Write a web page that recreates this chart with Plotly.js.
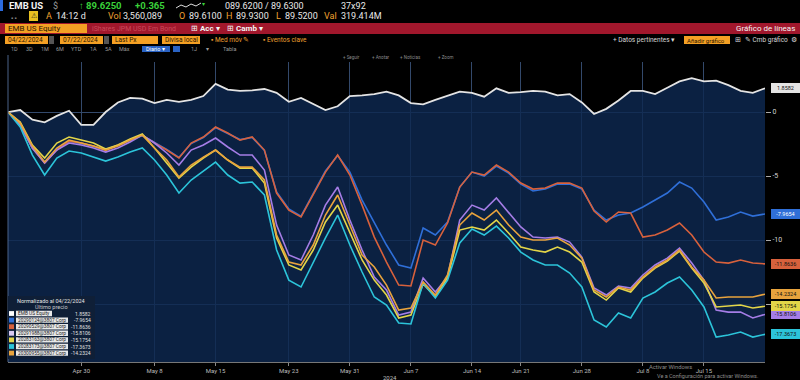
<!DOCTYPE html>
<html><head><meta charset="utf-8">
<script src="https://cdn.plot.ly/plotly-3.0.1.min.js"></script>
<style>html,body{margin:0;padding:0;background:#000;}#chart{width:800px;height:380px;}</style>
</head><body><div id="chart"></div>
<script>
// ---------- DATA ----------
const dates = [
 "2024-04-22","2024-04-23","2024-04-24","2024-04-25","2024-04-26","2024-04-29","2024-04-30",
 "2024-05-01","2024-05-02","2024-05-03","2024-05-06","2024-05-07","2024-05-08","2024-05-09","2024-05-10",
 "2024-05-13","2024-05-14","2024-05-15","2024-05-16","2024-05-17","2024-05-20","2024-05-21","2024-05-22",
 "2024-05-23","2024-05-24","2024-05-28","2024-05-29","2024-05-30","2024-05-31",
 "2024-06-03","2024-06-04","2024-06-05","2024-06-06","2024-06-07","2024-06-10","2024-06-11","2024-06-12",
 "2024-06-13","2024-06-14","2024-06-17","2024-06-18","2024-06-20","2024-06-21","2024-06-24","2024-06-25",
 "2024-06-26","2024-06-27","2024-06-28",
 "2024-07-01","2024-07-02","2024-07-03","2024-07-05","2024-07-08","2024-07-09","2024-07-10","2024-07-11",
 "2024-07-12","2024-07-15","2024-07-16","2024-07-17","2024-07-18","2024-07-19","2024-07-22"];
const tickDates = ["2024-04-30","2024-05-08","2024-05-15","2024-05-23","2024-05-31","2024-06-07","2024-06-14","2024-06-21","2024-06-28","2024-07-08","2024-07-15"];
const tickLabels = ["Apr 30","May 8","May 15","May 23","May 31","Jun 7","Jun 14","Jun 21","Jun 28","Jul 8","Jul 15"];
const yTickVals = [0,-5,-10,-15];
const yTickText = ["0","-5","-10",""];

const emb = [0,0.16,-0.6,-0.8,-0.3,0.1,-1.0,-1.0,0.0,0.75,
 1.1,1.05,0.7,0.95,0.8,0.95,1.25,2.2,1.75,1.65,
 1.7,1.8,1.5,0.8,1.1,0.6,0.15,0.45,1.25,1.3,
 1.4,1.6,1.3,0.7,0.6,0.95,1.3,1.6,1.5,1.2,
 1.85,1.5,1.55,1.65,1.6,1.3,1.4,0.75,-0.15,0.25,
 0.9,1.65,1.65,1.4,1.9,2.4,2.65,2.4,2.45,2.1,
 1.65,1.5,1.8582];
const bondBlue = [0,-0.98,-2.85,-3.91,-2.93,-2.30,-2.45,-2.70,-2.93,-2.62,
 -2.23,-1.84,-2.38,-2.93,-3.55,-2.46,-1.99,-1.21,-1.68,-2.15,
 -1.99,-3.01,-6.25,-7.58,-8.13,-6.41,-4.61,-3.40,-4.69,-6.88,
 -8.67,-10.39,-11.95,-12.19,-9.06,-9.61,-8.59,-5.86,-4.69,-5.0,
 -4.22,-4.77,-5.63,-6.17,-6.02,-5.63,-5.63,-6.02,-7.66,-8.44,
 -8.05,-7.89,-7.42,-6.88,-6.33,-5.47,-5.94,-7.03,-8.44,-8.20,
 -7.81,-8.13,-7.9654];
const bondRed = [0,-0.94,-2.81,-3.98,-2.97,-2.27,-2.42,-2.66,-2.97,-2.58,
 -2.19,-1.80,-2.42,-2.97,-3.59,-2.42,-1.95,-1.17,-1.64,-2.19,
 -1.95,-2.97,-6.33,-7.66,-8.20,-6.48,-4.69,-3.36,-4.92,-7.27,
 -9.77,-11.72,-13.52,-13.59,-10.0,-10.39,-8.67,-5.86,-4.69,-4.92,
 -4.14,-4.69,-5.55,-6.02,-5.94,-5.55,-5.55,-5.94,-7.73,-8.59,
 -7.81,-7.89,-9.77,-9.61,-9.22,-8.67,-9.61,-10.94,-11.72,-11.80,
 -11.56,-11.80,-11.8636];
const bondPurple = [0,-1.02,-2.81,-3.98,-2.97,-2.42,-2.58,-2.81,-3.13,-2.81,
 -2.34,-1.80,-2.42,-3.20,-4.14,-2.97,-2.58,-2.03,-2.73,-3.36,
 -3.36,-4.53,-8.83,-11.17,-11.56,-9.61,-7.27,-5.86,-8.44,-10.78,
 -12.89,-13.91,-15.86,-15.63,-12.97,-14.06,-12.89,-8.44,-7.27,-7.66,
 -6.72,-7.89,-8.98,-9.77,-9.84,-9.77,-10.16,-11.33,-13.75,-14.30,
 -13.59,-13.75,-12.73,-11.95,-11.41,-10.63,-11.80,-13.13,-15.47,-15.63,
 -15.63,-16.09,-15.8106];
const bondYellow = [0,-0.78,-2.58,-3.59,-2.42,-1.95,-2.19,-2.42,-2.89,-2.58,
 -2.11,-1.72,-2.81,-3.98,-5.16,-4.30,-3.59,-2.97,-3.75,-4.38,
 -4.38,-5.55,-9.84,-11.95,-12.34,-10.78,-8.59,-7.27,-9.38,-11.56,
 -13.13,-14.30,-16.09,-15.86,-13.44,-14.45,-12.97,-9.22,-8.98,-9.22,
 -8.44,-9.45,-10.55,-10.78,-10.94,-10.55,-10.94,-11.72,-14.06,-14.69,
 -13.75,-14.06,-12.97,-12.19,-11.64,-10.86,-12.19,-13.36,-15.23,-15.16,
 -15.08,-15.31,-15.1754];
const bondCyan = [0,-1.17,-3.36,-4.92,-3.59,-3.05,-3.20,-3.52,-3.83,-3.52,
 -3.13,-2.81,-3.75,-4.92,-6.33,-5.31,-4.61,-3.91,-4.92,-5.55,
 -5.47,-6.48,-10.78,-13.13,-13.67,-11.72,-9.84,-8.05,-10.39,-12.50,
 -14.45,-15.08,-16.48,-16.56,-13.36,-14.53,-13.13,-10.23,-9.14,-9.61,
 -8.91,-9.84,-10.94,-11.56,-11.95,-11.95,-12.58,-13.67,-16.25,-16.80,
 -15.70,-16.09,-14.53,-14.06,-13.36,-12.89,-13.91,-15.23,-17.58,-17.42,
 -17.19,-17.58,-17.3673];
const bondGold = [0,-0.86,-2.66,-3.91,-2.81,-2.19,-2.42,-2.66,-2.97,-2.66,
 -2.19,-1.80,-2.81,-3.75,-5.08,-4.14,-3.52,-2.97,-3.75,-4.30,
 -4.30,-5.31,-9.61,-11.72,-11.95,-10.39,-8.05,-6.48,-8.83,-11.17,
 -12.11,-13.52,-15.47,-15.31,-13.28,-14.30,-12.73,-8.83,-7.89,-8.44,
 -7.66,-8.83,-9.77,-10.0,-10.0,-9.84,-10.39,-11.41,-13.91,-14.45,
 -13.67,-13.91,-12.89,-12.11,-11.56,-10.78,-12.11,-13.13,-14.53,-14.45,
 -14.45,-14.45,-14.2324];

const seriesNames = ["EMB US Equity","20290124@3807 Corp","20290529@3807 Corp","20291988@3807 Corp","20283163@3807 Corp","20283173@3807 Corp","20300955@3807 Corp"];
const lastLabels = ["1.8582","-7.9654","-11.8636","-15.8106","-15.1754","-17.3673","-14.2324"];

// ---------- STYLE / GEOMETRY ----------
const seriesData = [emb,bondBlue,bondRed,bondPurple,bondYellow,bondCyan,bondGold];
const colors = ['#e4e4e4','#2f6fd8','#d8613c','#a57de6','#e3d548','#2cc4d9','#e8a33d'];
const legendSwatch = ['#ffffff','#2f6fd8','#d8613c','#d9c9f2','#e3d548','#2cc4d9','#e8a33d'];
const pillText = ['#111','#fff','#111','#111','#111','#111','#111'];
const W=800,H=380,L=8,R=35,T=62,B=18,PW=W-L-R,PH=H-T-B;
const yRange=[-19.53,3.91];
const FONT='Roboto, "Liberation Sans", Arial, sans-serif';
const fx=p=>(p-L)/PW, fy=p=>1-(p-T)/PH;
function txt(s,x,y,size,color,opt){return Object.assign({text:s,xref:'paper',yref:'paper',x:fx(x),y:fy(y),xanchor:'left',yanchor:'middle',showarrow:false,borderpad:0,font:{family:FONT,size:size,color:color}},opt||{});}
function rect(x0,y0,x1,y1,fill,opt){return Object.assign({type:'rect',xref:'paper',yref:'paper',x0:fx(x0),x1:fx(x1),y0:fy(y1),y1:fy(y0),fillcolor:fill,line:{width:0},layer:'above'},opt||{});}

const traces=[];
traces.push({x:dates,y:dates.map(()=>yRange[0]),type:'scatter',mode:'lines',line:{width:0},hoverinfo:'skip'});
seriesData.forEach((d,k)=>{
  const t={x:dates,y:d,type:'scatter',mode:'lines',line:{color:colors[k],width:1.6},name:seriesNames[k]};
  if(k===0){t.fill='tonexty';t.fillcolor='rgba(13,40,80,0.82)';t.line.width=1.8;}
  traces.push(t);
});

const shapes=[], ann=[];
// header rows
shapes.push(rect(0,0,3,11,'#2b6be0'));
ann.push(txt('<b>EMB US</b>',8,6,9.5,'#f2f2f2'));
ann.push(txt('$',52,6,9,'#9a9a9a'));
ann.push(txt('<b>↑ 89.6250</b>',78,6,9.5,'#3ad13a'));
ann.push(txt('<b>+0.365</b>',134,6,9.5,'#3ad13a'));
shapes.push({type:'path',xref:'paper',yref:'paper',path:'M'+fx(176)+','+fy(8)+' L'+fx(181)+','+fy(5)+' L'+fx(186)+','+fy(7)+' L'+fx(191)+','+fy(4)+' L'+fx(196)+','+fy(6)+' L'+fx(201)+','+fy(3),line:{color:'#dddddd',width:1},layer:'above'});
ann.push(txt('▾',201,4,6,'#3ad13a'));
ann.push(txt('089.6200 / 89.6300',224,6,9,'#e8e8e8'));
ann.push(txt('37x92',340,6,9,'#e8e8e8'));
ann.push(txt('▪ ▪',10,17,6,'#888'));
shapes.push(rect(29,11,38,21,'#e8c020'));
ann.push(txt('⚠',30,16,7,'#222'));
ann.push(txt('A',45,16,9,'#f0a030'));
ann.push(txt('14:12 d',55,16,9,'#e8e8e8'));
ann.push(txt('Vol',107,16,9,'#f0a030'));
ann.push(txt('3,560,089',122,16,9,'#e8e8e8'));
ann.push(txt('O',178,16,9,'#f0a030'));
ann.push(txt('89.6100',188,16,9,'#e8e8e8'));
ann.push(txt('H',225,16,9,'#f0a030'));
ann.push(txt('89.9300',235,16,9,'#e8e8e8'));
ann.push(txt('L',275,16,9,'#f0a030'));
ann.push(txt('89.5200',284,16,9,'#e8e8e8'));
ann.push(txt('Val',323,16,9,'#f0a030'));
ann.push(txt('319.414M',340,16,9,'#e8e8e8'));
shapes.push(rect(0,23,800,34,'#a1172c'));
shapes.push(rect(5,24,87,33,'#f4a024'));
ann.push(txt('EMB US Equity',7,28.5,8,'#2a1600'));
ann.push(txt('iShares JPM USD Em Bond',91,28.5,7,'#c9485a'));
ann.push(txt('⊞ <b>Acc</b> ▾',190,28.5,8,'#f4f4f4'));
ann.push(txt('⊞ <b>Camb</b> ▾',226,28.5,8,'#f4f4f4'));
ann.push(txt('Gráfico de líneas',796,28.5,8,'#f4f4f4',{xanchor:'right'}));
const boxes=[[5,48,'04/22/2024'],[60,103,'07/22/2024'],[112,158,'Last Px'],[162,200,'Divisa local']];
boxes.forEach(b=>{shapes.push(rect(b[0],36,b[1],44,'#f4a024'));ann.push(txt(b[2],b[0]+2,40,6.5,'#2a1600'));});
shapes.push(rect(49,36,54,44,'#555'));shapes.push(rect(104,36,109,44,'#555'));
ann.push(txt('▪ Med móv ✎',210,40,6.5,'#f0a030'));
ann.push(txt('▪ Eventos clave',262,40,6.5,'#f0a030'));
ann.push(txt('+ Datos pertinentes ▾',612,40,6.5,'#d8d8d8'));
shapes.push(rect(684,36,730,44,'#f4a024'));
ann.push(txt('Añadir gráfico',686,40,6,'#2a1600'));
ann.push(txt('⊞',734,40,6.5,'#d8d8d8'));
ann.push(txt('✎ Cmb gráfico',744,40,6.5,'#d8d8d8'));
ann.push(txt('⚙',790,40,7,'#d8d8d8'));
[['1D',10],['3D',25],['1M',40],['6M',55],['YTD',70],['1A',89],['5A',104],['Máx',118]].forEach(a=>ann.push(txt(a[0],a[1],49,5.5,'#9a9a9a')));
shapes.push(rect(142,46,170,52,'#2a63c4'));
ann.push(txt('Diario ▾',145,49,5.5,'#fff'));
shapes.push(rect(173,46,180,52,'#2a63c4'));
ann.push(txt('1J',190,49,5.5,'#9a9a9a'));
ann.push(txt('▾',205,49,5.5,'#9a9a9a'));
ann.push(txt('Tabla',222,49,5.5,'#9a9a9a'));
[['+ Seguir',342],['+ Anotar',371],['+ Noticias',399],['+ Zoom',437]].forEach(a=>ann.push(txt(a[0],a[1],57,4.5,'#8a8a8a')));
// left border
shapes.push({type:'line',xref:'paper',yref:'paper',x0:0,x1:0,y0:0,y1:fy(55),line:{color:'#4a6388',width:1},layer:'above'});
// legend box
shapes.push(rect(8,296,95,359,'#0f1f37'));
ann.push(txt('Normalizado al 04/22/2024',51,301,5.5,'#e6e6e6',{xanchor:'center'}));
ann.push(txt('Último precio',51,307,5.5,'#c8c8c8',{xanchor:'center'}));
seriesNames.forEach((n,k)=>{
  const y=313.5+6.6*k;
  shapes.push(rect(9,y-2.4,14,y+2.4,legendSwatch[k]));
  shapes.push(rect(16,y-2.7,k===0?52:68,y+2.7,'#e8e8e8'));
  ann.push(txt(n,17,y,4.8,'#222'));
  ann.push(txt(lastLabels[k],92,y,5,'#e0e0e0',{xanchor:'right'}));
});
// right value pills
seriesData.forEach((d,k)=>{
  ann.push({text:lastLabels[k],xref:'paper',yref:'y',x:fx(771),y:d[d.length-1],xanchor:'left',yanchor:'middle',showarrow:false,bgcolor:colors[k],bordercolor:colors[k],borderpad:1,width:25,font:{family:FONT,size:5.5,color:pillText[k]}});
});
ann.push(txt('2024',390,377,6,'#bdbdbd',{xanchor:'center'}));
ann.push(txt('Activar Windows',648,367,5.8,'#8c8c8c'));
ann.push(txt('Ve a Configuración para activar Windows.',656,376,5.5,'#8c8c8c'));

const layout={
  width:W,height:H,paper_bgcolor:'#000',plot_bgcolor:'#000',
  margin:{l:L,r:R,t:T,b:B},showlegend:false,
  xaxis:{type:'category',range:[0,dates.length-1],tickvals:tickDates,ticktext:tickLabels,
    tickfont:{size:6,color:'#bdbdbd',family:FONT},ticks:'outside',ticklen:3,tickcolor:'#888',
    showline:true,linecolor:'#777',linewidth:1,gridcolor:'#33496b',gridwidth:1,zeroline:false,fixedrange:true},
  yaxis:{side:'right',range:yRange,tickvals:yTickVals,ticktext:yTickText,ticks:'outside',ticklen:5,tickcolor:'#aaa',
    tickfont:{size:7,color:'#d0d0d0',family:FONT},gridcolor:'#33496b',gridwidth:1,zeroline:false,showline:false,fixedrange:true},
  shapes:shapes,annotations:ann
};
Plotly.newPlot('chart',traces,layout,{displayModeBar:false,staticPlot:true});
</script></body></html>
